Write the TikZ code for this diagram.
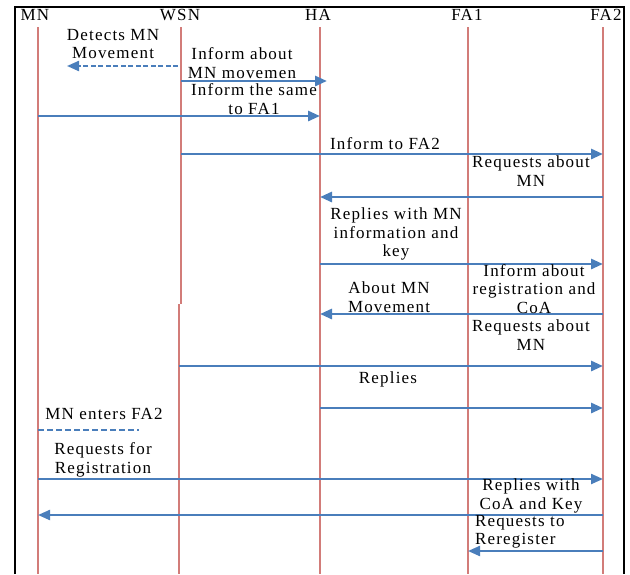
\documentclass[tikz,border=0pt]{standalone}
\usepackage{fontspec}
\setmainfont{Liberation Serif}[LetterSpace=7]
\usetikzlibrary{arrows.meta}
\definecolor{lifered}{HTML}{D27C79}
\definecolor{msgblue}{HTML}{4A7EBB}
\begin{document}
\begin{tikzpicture}[x=1pt,y=-1pt,
  every node/.style={inner sep=0pt,outer sep=0pt,font=\fontsize{17}{18.5}\selectfont,align=center},
  head/.style={font=\fontsize{17}{18.5}\selectfont},
  lifeline/.style={draw=lifered,line width=1.5pt},
  msg/.style={draw=msgblue,line width=2.8pt,-{Triangle[length=12pt,width=10pt]}},
  note/.style={draw=msgblue,line width=2pt,dash pattern=on 6pt off 3pt},
  frame/.style={draw=black,line width=2pt}]
\useasboundingbox (0,0) rectangle (630,574);

% outer frame (open at the bottom)
\draw[frame] (15,574) -- (15,7) -- (624,7) -- (624,574);

% participants
\node[head] (hMN)  at (35,15)  {MN};
\node[head] (hWSN) at (180,15) {WSN};
\node[head] (hHA)  at (318,15) {HA};
\node[head] (hFA1) at (467,15) {FA1};
\node[head] (hFA2) at (606,15) {FA2};

% lifeline anchors
\coordinate (xMN)  at (38,0);
\coordinate (xWSN) at (181,0);
\coordinate (xWSNb) at (179,0);
\coordinate (xHA)  at (320,0);
\coordinate (xFA1) at (468,0);
\coordinate (xFA2) at (603,0);
\coordinate (yTop) at (0,27);
\coordinate (yBrk) at (0,304);
\coordinate (yEnd) at (0,574);

\draw[lifeline] (xMN |- yTop) -- (xMN |- yEnd);
\draw[lifeline] (xWSN |- yTop) -- (xWSN |- yBrk);
\draw[lifeline] (xWSNb |- yBrk) -- (xWSNb |- yEnd);
\draw[lifeline] (xHA |- yTop) -- (xHA |- yEnd);
\draw[lifeline] (xFA1 |- yTop) -- (xFA1 |- yEnd);
\draw[lifeline] (xFA2 |- yTop) -- (xFA2 |- yEnd);

% message rows
\coordinate (y1) at (0,66);
\coordinate (y2) at (0,81);
\coordinate (y3) at (0,116);
\coordinate (y4) at (0,154);
\coordinate (y5) at (0,197);
\coordinate (y6) at (0,264);
\coordinate (y7) at (0,314);
\coordinate (y8) at (0,366);
\coordinate (y9) at (0,408);
\coordinate (y10) at (0,430);
\coordinate (y11) at (0,479);
\coordinate (y12) at (0,515);
\coordinate (y13) at (0,551);

% free ends
\coordinate (detEnd) at (67,66);
\coordinate (wsnS) at (178,66);
\coordinate (infEnd) at (327,81);
\coordinate (entEnd) at (139,430);

% messages
\draw[msg,line width=2.2pt,dash pattern=on 5pt off 2.5pt] (wsnS) -- (detEnd);
\draw[msg] (xWSN |- y2) -- (infEnd);
\draw[msg] (xMN |- y3) -- (xHA |- y3);
\draw[msg] (xWSN |- y4) -- (xFA2 |- y4);
\draw[msg] (xFA2 |- y5) -- (xHA |- y5);
\draw[msg] (xHA |- y6) -- (xFA2 |- y6);
\draw[msg] (xFA2 |- y7) -- (xHA |- y7);
\draw[msg] (xWSNb |- y8) -- (xFA2 |- y8);
\draw[msg] (xHA |- y9) -- (xFA2 |- y9);
\draw[note] (xMN |- y10) -- (entEnd);
\draw[msg,line width=2.2pt] (xMN |- y11) -- (xFA2 |- y11);
\draw[msg,line width=2.2pt] (xFA2 |- y12) -- (xMN |- y12);
\draw[msg,line width=2.2pt] (xFA2 |- y13) -- (xFA1 |- y13);

% labels
\node (t1)  at (113,44)  {Detects MN\\Movement};
\node (t2)  at (242,63)  {Inform about\\MN movemen};
\node (t3)  at (254,99)  {Inform the same\\to FA1};
\node (t4)  at (385,144) {Inform to FA2};
\node (t5)  at (531,171) {Requests about\\MN};
\node (t6)  at (396,234) {Replies with MN\\information and\\key};
\node (t7)  at (389,297) {About MN\\Movement};
\node (t8)  at (534,289) {Inform about\\registration and\\CoA};
\node (t9)  at (531,335) {Requests about\\MN};
\node (t10) at (388,379) {Replies};
\node (t11) at (104,414) {MN enters FA2};
\node (t12) at (103,460) {Requests for\\Registration};
\node (t13) at (531,496) {Replies with\\CoA and Key};
\node[align=left,anchor=west] (t14) at (475,532) {Requests to\\Reregister};
\end{tikzpicture}
\end{document}
